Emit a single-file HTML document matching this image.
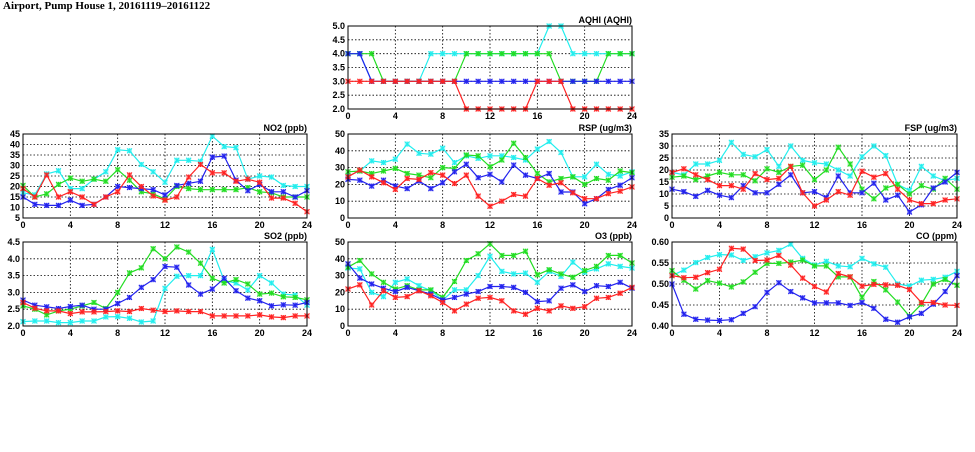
<!DOCTYPE html>
<html><head><meta charset="utf-8">
<style>
body{margin:0;background:#fff;width:975px;height:447px;overflow:hidden}
svg text{font-family:"Liberation Sans",sans-serif;font-weight:bold;font-size:9px;fill:#000}
</style></head>
<body>
<svg id="chart" width="975" height="447" viewBox="0 0 975 447">
<text x="3" y="9" style="font-size:11px;font-family:'Liberation Serif',serif">Airport, Pump House 1, 20161119–20161122</text>
</svg>
<script>
const hours=[0,1,2,3,4,5,6,7,8,9,10,11,12,13,14,15,16,17,18,19,20,21,22,23,24];
const xTicks=[0,4,8,12,16,20,24];
const seriesNames=['cyan','green','blue','red'];
const seriesColors=['#22eeee','#22dd22','#2222ee','#ff2222'];

const aqhiCyan=[4,4,3,3,3,3,3,4,4,4,4,4,4,4,4,4,4,5,5,4,4,4,4,4,4];
const aqhiGreen=[4,4,4,3,3,3,3,3,3,3,4,4,4,4,4,4,4,4,3,3,3,3,4,4,4];
const aqhiBlue=[4,4,3,3,3,3,3,3,3,3,3,3,3,3,3,3,3,3,3,3,3,3,3,3,3];
const aqhiRed=[3,3,3,3,3,3,3,3,3,3,2,2,2,2,2,2,3,3,3,2,2,2,2,2,2];
const aqhiTicks=[2.0,2.5,3.0,3.5,4.0,4.5,5.0];

const no2Cyan=[17,16,26,27.5,19,19,23.5,27,37.5,37,30.5,27,22,32.5,32.5,32,44,39,38.5,23.5,25,24.5,20.5,20,20];
const no2Green=[20.5,15,16.5,21,24,22.5,23.5,22.5,28,23,17.5,16.5,14,20,19,18.5,18.5,18.5,18.5,19.5,17.5,17,15,15,15];
const no2Blue=[15,11.5,11,11,13.5,11,11.5,15,20,19.5,19,18.5,16,20.5,21.5,22.5,34,34.5,23,18,21,17.5,17.5,15,18];
const no2Red=[19,15,25.5,15,17.5,15,11.5,15,17.5,25.5,20,15.5,13.5,15,24.5,30.5,26.5,26.5,22.5,23.5,22,14.5,14.5,12,8];
const no2Ticks=[5,10,15,20,25,30,35,40,45];

const rspCyan=[25,28,34,33,35,44,38.5,38,41.5,33,37,35.5,37,37,36,34.5,41,45.5,39,24.5,24.5,32,26,25,27.5];
const rspGreen=[27.5,28,26.5,28,29.5,26.5,25.5,24,30,29.5,37.5,37,30.5,34.5,44.5,36,26.5,21.5,23.5,24.5,20,23.5,22.5,28,27];
const rspBlue=[23,22.5,19,22.5,19,17.5,22,17.5,21,27.5,32,24,26,21.5,31.5,25.5,23.5,26.5,15.5,15.5,8.5,11.5,17,19.5,24];
const rspRed=[24.5,28.5,24.5,21,17,23.5,23,27,25.5,20.5,25.5,13,7,10,14,13,23.5,19.5,21,15,11.5,11.5,14.5,16,18.5];
const rspTicks=[0,10,20,30,40,50];

const fspCyan=[19,18,22.5,22.5,24,31.5,26.5,25.5,28.5,21.5,30,24,23,22.5,20,17.5,25.5,30,26,14,11.5,21.5,17.5,15.5,16.5];
const fspGreen=[17,17.5,16,17.5,19,18,18,15.5,20.5,19,21.5,22,16,20,29.5,22.5,12,8,12.5,14,10,13.5,12,16.5,12];
const fspBlue=[12,11,9,11.5,9.5,8.5,13.5,10.5,10.5,14,18,10.5,11,8.5,17.5,10.5,10.5,14.5,7.5,9.5,2.5,5.5,12.5,15,19];
const fspRed=[19,20.5,18,16,13.5,13.5,12,18.5,16,16.5,21.5,10.5,5,7.5,11,9.5,19.5,17,18.5,12,7.5,6,6,7.5,8];
const fspTicks=[0,5,10,15,20,25,30,35];

const so2Cyan=[2.13,2.15,2.15,2.1,2.1,2.15,2.15,2.27,2.28,2.23,2.12,2.15,3.12,3.48,3.5,3.5,4.28,3.35,3.28,3.07,3.5,3.28,2.95,2.92,2.62];
const so2Green=[2.6,2.5,2.33,2.45,2.5,2.6,2.7,2.52,3.0,3.58,3.73,4.3,4.0,4.35,4.2,3.87,3.42,3.28,3.38,3.25,2.95,2.98,2.87,2.85,2.78];
const so2Blue=[2.77,2.62,2.57,2.52,2.58,2.62,2.5,2.5,2.67,2.85,3.15,3.38,3.77,3.75,3.22,2.95,3.1,3.42,3.05,2.83,2.75,2.6,2.63,2.62,2.7];
const so2Red=[2.7,2.53,2.45,2.45,2.37,2.42,2.42,2.43,2.45,2.43,2.52,2.47,2.43,2.45,2.43,2.43,2.3,2.3,2.3,2.3,2.33,2.27,2.25,2.3,2.3];
const so2Ticks=[2.0,2.5,3.0,3.5,4.0,4.5];

const o3Cyan=[34.5,34,20,17.5,26,28,24,21,15.5,21.5,21.5,30,41.5,32.5,31,31.5,26,32.5,29.5,38,32,34,37,35.5,34.5];
const o3Green=[35,39,31,26,22,24,21.5,21.5,17,26.5,39,43,49,42,42,44.5,30.5,33.5,31,29,33,35.5,42,42,37.5];
const o3Blue=[37,28.5,25,22.5,20.5,23,21,19,15.5,17,19,20.5,23.5,23.5,23,20,14.5,15,22.5,24.5,20.5,24,23.5,26,22.5];
const o3Red=[22,24.5,12.5,21,17,17.5,21,18,14,9,13,16.5,17,15,9,7,10.5,9,12,10.5,11.5,16.5,17,19.5,23];
const o3Ticks=[0,10,20,30,40,50];

const coCyan=[0.52,0.533,0.551,0.563,0.57,0.569,0.556,0.565,0.574,0.58,0.595,0.561,0.545,0.554,0.543,0.541,0.561,0.548,0.54,0.50,0.495,0.509,0.511,0.516,0.53];
const coGreen=[0.532,0.509,0.488,0.508,0.502,0.493,0.505,0.528,0.549,0.549,0.552,0.557,0.543,0.543,0.517,0.517,0.468,0.506,0.486,0.457,0.423,0.452,0.500,0.511,0.497];
const coBlue=[0.50,0.428,0.416,0.414,0.413,0.415,0.43,0.446,0.48,0.503,0.482,0.467,0.455,0.455,0.455,0.449,0.456,0.442,0.416,0.409,0.422,0.43,0.452,0.482,0.52];
const coRed=[0.52,0.515,0.516,0.527,0.535,0.585,0.583,0.556,0.557,0.568,0.545,0.514,0.494,0.481,0.525,0.517,0.495,0.499,0.498,0.497,0.487,0.456,0.456,0.45,0.449];
const coTicks=[0.40,0.45,0.50,0.55,0.60];

const NS='http://www.w3.org/2000/svg';
const svg=document.getElementById('chart');
function mk(tag,attrs,parent){const e=document.createElementNS(NS,tag);for(const k in attrs)e.setAttribute(k,attrs[k]);(parent||svg).appendChild(e);return e;}

function panel(id,title,box,ticks,dec,series){
  const g=mk('g',{});
  
  
  const [x0,y0,x1,y1]=box;
  const ymin=ticks[0],ymax=ticks[ticks.length-1];
  const xs=h=>x0+(h-0)/(24-0)*(x1-x0);
  const ys=v=>y1-(v-ymin)/(ymax-ymin)*(y1-y0);
  ticks.forEach(t=>{
    const y=ys(t);
    if(t!==ymin&&t!==ymax){const l=mk('line',{x1:x0,x2:x1,y1:y,y2:y,stroke:'#000','stroke-width':0.8,'stroke-dasharray':'1.5,2'},g);
    
    }
    const tl=mk('text',{x:x0-3,y:y+3,'text-anchor':'end'},g);
    tl.textContent=t.toFixed(dec);
    
    
  });
  xTicks.forEach(t=>{
    const x=xs(t);
    if(t!==0&&t!==24){const l=mk('line',{x1:x,x2:x,y1:y0,y2:y1,stroke:'#000','stroke-width':0.8,'stroke-dasharray':'1.5,2'},g);
    
    }
    const tl=mk('text',{x:x,y:y1+10,'text-anchor':'middle'},g);
    tl.textContent=t;
    
    
  });
  series.forEach((arr,si)=>{
    const c=seriesColors[si];
    const pts=arr.map((v,i)=>xs(hours[i]).toFixed(1)+','+ys(v).toFixed(1)).join(' ');
    const pl=mk('polyline',{points:pts,fill:'none',stroke:c,'stroke-width':1.2},g);
    
    
    arr.forEach((v,i)=>{
      const cx=xs(hours[i]),cy=ys(v);
      const m=mk('g',{},g);
      
      
      mk('rect',{x:cx-2.5,y:cy-2.5,width:5,height:5,fill:c,opacity:0.45},m);
      mk('path',{d:`M${cx-2.5} ${cy-2.5}L${cx+2.5} ${cy+2.5}M${cx+2.5} ${cy-2.5}L${cx-2.5} ${cy+2.5}M${cx} ${cy-2.5}V${cy+2.5}`,stroke:c,'stroke-width':1},m);
    });
  });
  const r=mk('rect',{x:x0,y:y0,width:x1-x0,height:y1-y0,fill:'none',stroke:'#000','stroke-width':1},g);
  
  
  const tt=mk('text',{x:x1,y:y0-3,'text-anchor':'end'},g);
  tt.textContent=title;
  
  
}
panel('aqhi','AQHI (AQHI)',[348,26,632,109],aqhiTicks,1,[aqhiCyan,aqhiGreen,aqhiBlue,aqhiRed]);
panel('no2','NO2 (ppb)',[23,134,307,218],no2Ticks,0,[no2Cyan,no2Green,no2Blue,no2Red]);
panel('rsp','RSP (ug/m3)',[348,134,632,218],rspTicks,0,[rspCyan,rspGreen,rspBlue,rspRed]);
panel('fsp','FSP (ug/m3)',[672,134,957,218],fspTicks,0,[fspCyan,fspGreen,fspBlue,fspRed]);
panel('so2','SO2 (ppb)',[23,242,307,326],so2Ticks,1,[so2Cyan,so2Green,so2Blue,so2Red]);
panel('o3','O3 (ppb)',[348,242,632,326],o3Ticks,0,[o3Cyan,o3Green,o3Blue,o3Red]);
panel('co','CO (ppm)',[672,242,957,326],coTicks,2,[coCyan,coGreen,coBlue,coRed]);
</script>
</body></html>
